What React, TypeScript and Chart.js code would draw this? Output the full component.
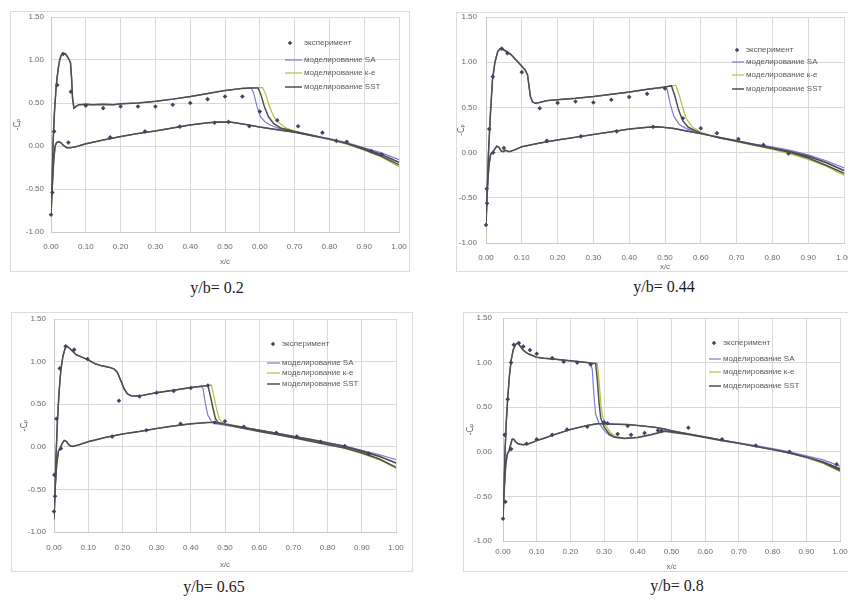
import React, { useEffect, useRef } from 'react';
import { Chart, registerables } from 'chart.js';

Chart.register(...registerables);

type Pt = [number, number];

// ---------- texts ----------
const SERIES_LABELS = ['эксперимент', 'моделирование SA', 'моделирование к-е', 'моделирование SST'];
const CAPTIONS = ['y/b= 0.2', 'y/b= 0.44', 'y/b= 0.65', 'y/b= 0.8'];
const X_TITLE = 'x/c';
const Y_TITLE = '-Cₚ';
const X_TICKS = [0, 0.1, 0.2, 0.3, 0.4, 0.5, 0.6, 0.7, 0.8, 0.9, 1.0];
const Y_TICKS = [-1.0, -0.5, 0, 0.5, 1.0, 1.5];

// ---------- panel 1 : y/b = 0.2 ----------
const P1_UPPER: Pt[] = [[0,-0.80],[0.003,-0.45],[0.006,0.05],[0.010,0.40],[0.015,0.70],[0.020,0.88],[0.025,1.00],[0.030,1.06],[0.035,1.08],[0.042,1.07],[0.050,1.02],[0.056,0.97],[0.059,0.80],[0.062,0.55],[0.066,0.44],[0.072,0.46],[0.080,0.48],[0.10,0.485],[0.12,0.48],[0.15,0.485],[0.18,0.48],[0.20,0.49],[0.25,0.50],[0.30,0.52],[0.35,0.545],[0.40,0.575],[0.45,0.61],[0.50,0.645],[0.55,0.67],[0.575,0.675]];
const P1_SA_AFT: Pt[] = [[0.575,0.675],[0.582,0.62],[0.592,0.46],[0.602,0.34],[0.615,0.28],[0.63,0.245],[0.65,0.21],[0.70,0.165],[0.75,0.125],[0.80,0.085],[0.85,0.04],[0.90,-0.02],[0.95,-0.08],[1.00,-0.16]];
const P1_KE_AFT: Pt[] = [[0.575,0.675],[0.608,0.68],[0.617,0.60],[0.628,0.46],[0.64,0.34],[0.655,0.27],[0.675,0.21],[0.70,0.175],[0.75,0.125],[0.80,0.075],[0.85,0.02],[0.90,-0.05],[0.95,-0.13],[1.00,-0.24]];
const P1_SST_AFT: Pt[] = [[0.575,0.675],[0.595,0.675],[0.603,0.60],[0.613,0.46],[0.625,0.34],[0.64,0.26],[0.66,0.21],[0.70,0.17],[0.75,0.125],[0.80,0.08],[0.85,0.03],[0.90,-0.04],[0.95,-0.12],[1.00,-0.22]];
const P1_LOWER: Pt[] = [[0,-0.80],[0.004,-0.45],[0.008,-0.15],[0.012,0.00],[0.016,0.04],[0.022,0.05],[0.028,0.04],[0.035,0.01],[0.045,-0.02],[0.055,-0.02],[0.07,-0.01],[0.10,0.025],[0.15,0.07],[0.20,0.11],[0.25,0.145],[0.30,0.175],[0.35,0.21],[0.40,0.245],[0.45,0.27],[0.48,0.28],[0.52,0.275],[0.56,0.25],[0.60,0.22],[0.65,0.19],[0.70,0.16],[0.75,0.12],[0.80,0.08],[0.85,0.03],[0.90,-0.03],[0.95,-0.10],[1.00,-0.19]];
const P1_EXP_UPPER: Pt[] = [[0,-0.80],[0.004,-0.54],[0.009,0.17],[0.018,0.71],[0.035,1.07],[0.057,0.63],[0.10,0.47],[0.15,0.44],[0.20,0.46],[0.25,0.46],[0.30,0.46],[0.35,0.48],[0.40,0.50],[0.45,0.545],[0.50,0.575],[0.55,0.575],[0.60,0.40],[0.65,0.30],[0.71,0.23],[0.78,0.155],[0.85,0.05],[0.92,-0.06],[0.95,-0.10]];
const P1_EXP_LOWER: Pt[] = [[0.05,0.04],[0.17,0.10],[0.27,0.17],[0.37,0.225],[0.47,0.27],[0.51,0.28],[0.57,0.23],[0.82,0.06]];

// ---------- panel 2 : y/b = 0.44 ----------
const P2_UPPER: Pt[] = [[0,-0.80],[0.003,-0.45],[0.007,0.00],[0.012,0.40],[0.018,0.80],[0.025,1.00],[0.033,1.12],[0.040,1.15],[0.048,1.14],[0.06,1.11],[0.07,1.085],[0.08,1.04],[0.09,1.00],[0.10,0.955],[0.11,0.91],[0.116,0.86],[0.120,0.74],[0.124,0.62],[0.130,0.56],[0.138,0.545],[0.15,0.555],[0.17,0.575],[0.20,0.585],[0.25,0.60],[0.30,0.62],[0.35,0.645],[0.40,0.67],[0.45,0.70],[0.50,0.725]];
const P2_SA_AFT: Pt[] = [[0.50,0.725],[0.506,0.70],[0.515,0.53],[0.525,0.40],[0.54,0.31],[0.56,0.265],[0.60,0.21],[0.65,0.165],[0.70,0.13],[0.75,0.095],[0.80,0.065],[0.85,0.025],[0.90,-0.025],[0.95,-0.09],[1.00,-0.17]];
const P2_KE_AFT: Pt[] = [[0.50,0.725],[0.53,0.745],[0.54,0.63],[0.55,0.49],[0.56,0.37],[0.575,0.29],[0.60,0.225],[0.65,0.165],[0.70,0.12],[0.75,0.08],[0.80,0.035],[0.85,-0.015],[0.90,-0.075],[0.95,-0.15],[1.00,-0.25]];
const P2_SST_AFT: Pt[] = [[0.50,0.725],[0.518,0.74],[0.528,0.62],[0.538,0.47],[0.55,0.35],[0.565,0.28],[0.60,0.215],[0.65,0.165],[0.70,0.125],[0.75,0.085],[0.80,0.045],[0.85,0.00],[0.90,-0.06],[0.95,-0.14],[1.00,-0.23]];
const P2_LOWER: Pt[] = [[0,-0.80],[0.004,-0.40],[0.008,-0.15],[0.013,-0.02],[0.018,0.00],[0.023,0.03],[0.030,0.07],[0.036,0.06],[0.042,0.02],[0.048,0.01],[0.055,0.025],[0.065,0.01],[0.08,0.03],[0.10,0.065],[0.15,0.105],[0.20,0.14],[0.25,0.17],[0.30,0.20],[0.35,0.23],[0.40,0.26],[0.45,0.28],[0.48,0.285],[0.52,0.27],[0.56,0.24],[0.60,0.21],[0.65,0.17],[0.70,0.13],[0.75,0.09],[0.80,0.05],[0.85,0.01],[0.90,-0.04],[0.95,-0.11],[1.00,-0.20]];
const P2_EXP_UPPER: Pt[] = [[0,-0.80],[0.003,-0.56],[0.002,-0.40],[0.009,0.26],[0.019,0.84],[0.044,1.15],[0.06,1.10],[0.10,0.89],[0.15,0.49],[0.20,0.55],[0.25,0.565],[0.30,0.555],[0.35,0.585],[0.40,0.615],[0.45,0.65],[0.50,0.71],[0.55,0.38],[0.60,0.27],[0.645,0.215],[0.705,0.15],[0.775,0.085],[0.845,-0.01]];
const P2_EXP_LOWER: Pt[] = [[0.02,0.00],[0.05,0.05],[0.17,0.13],[0.265,0.18],[0.365,0.235],[0.467,0.285]];

// ---------- panel 3 : y/b = 0.65 ----------
const P3_UPPER: Pt[] = [[0,-0.85],[0.003,-0.50],[0.006,-0.10],[0.010,0.30],[0.015,0.65],[0.020,0.90],[0.026,1.06],[0.032,1.15],[0.037,1.18],[0.045,1.16],[0.055,1.12],[0.065,1.08],[0.08,1.055],[0.10,1.02],[0.12,0.975],[0.14,0.95],[0.16,0.935],[0.175,0.915],[0.185,0.875],[0.195,0.78],[0.205,0.68],[0.215,0.62],[0.225,0.60],[0.24,0.595],[0.26,0.605],[0.30,0.635],[0.35,0.665],[0.40,0.695],[0.43,0.71]];
const P3_SA_AFT: Pt[] = [[0.43,0.71],[0.436,0.68],[0.443,0.50],[0.45,0.37],[0.46,0.30],[0.475,0.27],[0.50,0.255],[0.55,0.22],[0.60,0.19],[0.65,0.16],[0.70,0.125],[0.75,0.09],[0.80,0.05],[0.85,0.01],[0.90,-0.04],[0.95,-0.09],[1.00,-0.15]];
const P3_KE_AFT: Pt[] = [[0.43,0.71],[0.46,0.725],[0.467,0.60],[0.475,0.45],[0.483,0.33],[0.49,0.29],[0.50,0.275],[0.55,0.235],[0.60,0.19],[0.65,0.15],[0.70,0.11],[0.75,0.07],[0.80,0.03],[0.85,-0.02],[0.90,-0.08],[0.95,-0.15],[1.00,-0.25]];
const P3_SST_AFT: Pt[] = [[0.43,0.71],[0.45,0.72],[0.457,0.60],[0.465,0.45],[0.472,0.33],[0.48,0.285],[0.50,0.265],[0.55,0.22],[0.60,0.18],[0.65,0.145],[0.70,0.105],[0.75,0.065],[0.80,0.025],[0.85,-0.015],[0.90,-0.07],[0.95,-0.14],[1.00,-0.24]];
const P3_LOWER: Pt[] = [[0,-0.85],[0.004,-0.45],[0.008,-0.20],[0.013,-0.05],[0.018,-0.02],[0.024,0.04],[0.030,0.075],[0.036,0.065],[0.042,0.03],[0.048,0.01],[0.055,0.005],[0.07,0.02],[0.10,0.06],[0.15,0.11],[0.20,0.15],[0.25,0.18],[0.30,0.215],[0.35,0.245],[0.40,0.27],[0.45,0.285],[0.47,0.285],[0.50,0.265],[0.55,0.23],[0.60,0.195],[0.65,0.16],[0.70,0.12],[0.75,0.085],[0.80,0.045],[0.85,0.005],[0.90,-0.05],[0.95,-0.11],[1.00,-0.19]];
const P3_EXP_UPPER: Pt[] = [[0,-0.76],[0.003,-0.58],[0.001,-0.33],[0.007,0.33],[0.017,0.92],[0.034,1.18],[0.059,1.14],[0.098,1.03],[0.19,0.54],[0.25,0.59],[0.30,0.635],[0.35,0.655],[0.40,0.69],[0.45,0.72],[0.50,0.30],[0.555,0.235],[0.65,0.165],[0.71,0.12],[0.78,0.06],[0.85,0.01],[0.92,-0.08]];
const P3_EXP_LOWER: Pt[] = [[0.02,-0.02],[0.17,0.12],[0.27,0.195],[0.37,0.27],[0.47,0.285]];

// ---------- panel 4 : y/b = 0.8 ----------
const P4_UPPER: Pt[] = [[0,-0.75],[0.003,-0.40],[0.006,0.00],[0.010,0.35],[0.014,0.60],[0.019,0.85],[0.024,1.02],[0.030,1.14],[0.037,1.20],[0.043,1.22],[0.050,1.19],[0.06,1.14],[0.07,1.11],[0.08,1.09],[0.10,1.06],[0.12,1.05],[0.15,1.04],[0.20,1.02],[0.25,1.00],[0.26,0.995]];
const P4_SA_AFT: Pt[] = [[0.26,0.995],[0.265,0.92],[0.27,0.62],[0.275,0.42],[0.285,0.32],[0.30,0.24],[0.315,0.185],[0.33,0.16],[0.36,0.15],[0.40,0.16],[0.44,0.195],[0.48,0.235],[0.50,0.225],[0.55,0.20],[0.60,0.165],[0.65,0.13],[0.70,0.10],[0.75,0.07],[0.80,0.035],[0.85,0.00],[0.90,-0.045],[0.95,-0.09],[1.00,-0.16]];
const P4_KE_AFT: Pt[] = [[0.26,0.995],[0.28,0.99],[0.285,0.80],[0.29,0.55],[0.295,0.40],[0.305,0.29],[0.32,0.21],[0.335,0.17],[0.36,0.155],[0.40,0.165],[0.44,0.195],[0.48,0.235],[0.50,0.225],[0.55,0.20],[0.60,0.165],[0.65,0.13],[0.70,0.095],[0.75,0.06],[0.80,0.025],[0.85,-0.015],[0.90,-0.065],[0.95,-0.13],[1.00,-0.22]];
const P4_SST_AFT: Pt[] = [[0.26,0.995],[0.275,0.99],[0.28,0.80],[0.285,0.55],[0.29,0.38],[0.30,0.28],[0.315,0.20],[0.33,0.165],[0.36,0.15],[0.40,0.16],[0.44,0.19],[0.48,0.23],[0.50,0.22],[0.55,0.195],[0.60,0.16],[0.65,0.125],[0.70,0.095],[0.75,0.06],[0.80,0.025],[0.85,-0.01],[0.90,-0.06],[0.95,-0.12],[1.00,-0.21]];
const P4_LOWER: Pt[] = [[0,-0.75],[0.004,-0.40],[0.008,-0.15],[0.013,-0.02],[0.017,0.00],[0.022,0.07],[0.027,0.14],[0.032,0.14],[0.038,0.11],[0.045,0.09],[0.05,0.085],[0.06,0.08],[0.07,0.085],[0.08,0.095],[0.10,0.125],[0.12,0.15],[0.15,0.19],[0.20,0.25],[0.25,0.295],[0.28,0.315],[0.30,0.315],[0.33,0.31],[0.37,0.305],[0.40,0.295],[0.45,0.275],[0.48,0.255],[0.50,0.235],[0.55,0.20],[0.60,0.165],[0.65,0.13],[0.70,0.095],[0.75,0.06],[0.80,0.025],[0.85,-0.015],[0.90,-0.06],[0.95,-0.115],[1.00,-0.19]];
const P4_EXP_UPPER: Pt[] = [[0,-0.75],[0.007,-0.56],[0.005,0.19],[0.014,0.59],[0.024,1.00],[0.032,1.20],[0.047,1.22],[0.06,1.18],[0.08,1.14],[0.10,1.10],[0.146,1.05],[0.18,1.01],[0.22,1.00],[0.26,0.98],[0.30,0.33],[0.34,0.20],[0.38,0.19],[0.42,0.21],[0.47,0.235],[0.55,0.27],[0.65,0.14],[0.75,0.07],[0.85,0.00],[0.99,-0.14]];
const P4_EXP_LOWER: Pt[] = [[0.024,0.03],[0.07,0.09],[0.10,0.14],[0.146,0.19],[0.19,0.25],[0.25,0.28],[0.31,0.32],[0.37,0.29],[0.46,0.24]];

const PANEL_DATA = [
  { expU: P1_EXP_UPPER, expL: P1_EXP_LOWER, upper: P1_UPPER, sa: P1_SA_AFT, ke: P1_KE_AFT, sst: P1_SST_AFT, lower: P1_LOWER },
  { expU: P2_EXP_UPPER, expL: P2_EXP_LOWER, upper: P2_UPPER, sa: P2_SA_AFT, ke: P2_KE_AFT, sst: P2_SST_AFT, lower: P2_LOWER },
  { expU: P3_EXP_UPPER, expL: P3_EXP_LOWER, upper: P3_UPPER, sa: P3_SA_AFT, ke: P3_KE_AFT, sst: P3_SST_AFT, lower: P3_LOWER },
  { expU: P4_EXP_UPPER, expL: P4_EXP_LOWER, upper: P4_UPPER, sa: P4_SA_AFT, ke: P4_KE_AFT, sst: P4_SST_AFT, lower: P4_LOWER },
];

// ---------- layout (pixels) ----------
const LAYOUT = [
  { frame: { l: 10, t: 11, r: 410, b: 272 }, plot: { l: 51, t: 17, r: 399, b: 232 }, yPad: 7, xPad: 10, xTitlePad: 5, yTitlePad: 3,
    legend: { mx: 290, lx0: 285, lx1: 302, tx: 304, ys: [43, 60, 73, 87] }, cap: { x: 217, y: 288 } },
  { frame: { l: 456, t: 12, r: 848, b: 272 }, plot: { l: 486, t: 17, r: 845, b: 243 }, yPad: 9, xPad: 10, xTitlePad: 0, yTitlePad: 1,
    legend: { mx: 737, lx0: 732, lx1: 744, tx: 746, ys: [50, 62, 75, 89] }, cap: { x: 664, y: 287 } },
  { frame: { l: 11, t: 312, r: 413, b: 572 }, plot: { l: 54, t: 319, r: 396, b: 532 }, yPad: 8, xPad: 11, xTitlePad: 2, yTitlePad: 9,
    legend: { mx: 273, lx0: 267, lx1: 280, tx: 282, ys: [344, 363, 373, 384] }, cap: { x: 214, y: 587 } },
  { frame: { l: 463, t: 312, r: 848, b: 572 }, plot: { l: 503, t: 318, r: 840, b: 541 }, yPad: 11, xPad: 6, xTitlePad: 0, yTitlePad: 3,
    legend: { mx: 714, lx0: 709, lx1: 721, tx: 723, ys: [343, 359, 372, 386] }, cap: { x: 677, y: 586 } },
];

const COLORS = { exp: '#3f4466', sa: '#7a7ad8', ke: '#b4c03c', sst: '#4f4f4f' };
const TICK_FONT = { family: '"Liberation Sans", Arial, sans-serif', size: 8 };
const TEXT_COLOR = '#6a6a6a';

function toXY(pts: Pt[]) {
  return pts.map(([x, y]) => ({ x, y }));
}
function loop(upper: Pt[], aft: Pt[], lower: Pt[]) {
  return toXY([...upper, ...aft].reverse().concat(lower));
}

const inlineLegend = {
  id: 'inlineLegend',
  afterDraw(chart: any, _args: any, opts: any) {
    const { ctx } = chart;
    ctx.save();
    ctx.font = '8px "Liberation Sans", Arial, sans-serif';
    ctx.textBaseline = 'middle';
    chart.data.datasets.forEach((ds: any, i: number) => {
      const y = opts.ys[i];
      if (i === 0) {
        const r = 2.2;
        ctx.fillStyle = ds.backgroundColor;
        ctx.beginPath();
        ctx.moveTo(opts.mx, y - r);
        ctx.lineTo(opts.mx + r, y);
        ctx.lineTo(opts.mx, y + r);
        ctx.lineTo(opts.mx - r, y);
        ctx.closePath();
        ctx.fill();
      } else {
        ctx.strokeStyle = ds.borderColor;
        ctx.lineWidth = ds.borderWidth;
        ctx.beginPath();
        ctx.moveTo(opts.lx0, y);
        ctx.lineTo(opts.lx1, y);
        ctx.stroke();
      }
      ctx.fillStyle = '#5a5a5a';
      ctx.fillText(ds.label, opts.tx, y);
    });
    ctx.restore();
  },
};

function makeConfig(idx: number): any {
  const d = PANEL_DATA[idx];
  const L = LAYOUT[idx];
  const f = L.frame;
  const p = L.plot;
  const yW = p.l - f.l;
  const xH = f.b - p.b;
  const zeroPad = (s: any) => { s.paddingLeft = 0; s.paddingRight = 0; s.paddingTop = 0; s.paddingBottom = 0; };
  return {
    type: 'scatter',
    data: {
      datasets: [
        { label: SERIES_LABELS[0], data: toXY([...d.expU, ...d.expL]), showLine: false, pointStyle: 'rectRot', pointRadius: 2.3,
          backgroundColor: COLORS.exp, borderColor: COLORS.exp, borderWidth: 0, order: 0, clip: false },
        { label: SERIES_LABELS[1], data: loop(d.upper, d.sa, d.lower), showLine: true, pointRadius: 0, borderColor: COLORS.sa,
          backgroundColor: COLORS.sa, borderWidth: 1.2, tension: 0, order: 2 },
        { label: SERIES_LABELS[2], data: loop(d.upper, d.ke, d.lower), showLine: true, pointRadius: 0, borderColor: COLORS.ke,
          backgroundColor: COLORS.ke, borderWidth: 1.2, tension: 0, order: 3 },
        { label: SERIES_LABELS[3], data: loop(d.upper, d.sst, d.lower), showLine: true, pointRadius: 0, borderColor: COLORS.sst,
          backgroundColor: COLORS.sst, borderWidth: 1.5, tension: 0, order: 1 },
      ],
    },
    options: {
      responsive: false,
      animation: false,
      events: [],
      layout: { padding: { left: 0, top: p.t - f.t, right: f.r - p.r, bottom: 0 } },
      plugins: {
        legend: { display: false },
        tooltip: { enabled: false },
        inlineLegend: {
          mx: L.legend.mx - f.l, lx0: L.legend.lx0 - f.l, lx1: L.legend.lx1 - f.l, tx: L.legend.tx - f.l,
          ys: L.legend.ys.map((v) => v - f.t),
        },
      },
      scales: {
        x: {
          type: 'linear', position: 'bottom', min: 0, max: 1,
          afterBuildTicks: (s: any) => { s.ticks = X_TICKS.map((v) => ({ value: v })); },
          afterFit: (s: any) => { s.height = xH; zeroPad(s); },
          grid: { color: '#d9d9d9', lineWidth: 1, drawTicks: false },
          border: { color: '#c8c8c8' },
          ticks: { padding: L.xPad, font: TICK_FONT, color: TEXT_COLOR, autoSkip: false, maxRotation: 0,
            callback: (v: any) => Number(v).toFixed(2) },
          title: { display: true, text: X_TITLE, font: TICK_FONT, color: TEXT_COLOR, padding: { top: 0, bottom: L.xTitlePad } },
        },
        y: {
          type: 'linear', position: 'left', min: -1, max: 1.5,
          afterBuildTicks: (s: any) => { s.ticks = Y_TICKS.map((v) => ({ value: v })); },
          afterFit: (s: any) => { s.width = yW; zeroPad(s); },
          grid: { color: '#d9d9d9', lineWidth: 1, drawTicks: false },
          border: { color: '#c8c8c8' },
          ticks: { padding: L.yPad, font: TICK_FONT, color: TEXT_COLOR, autoSkip: false,
            callback: (v: any) => Number(v).toFixed(2) },
          title: { display: true, text: Y_TITLE, font: { family: '"DejaVu Sans", sans-serif', size: 8 }, color: '#555',
            padding: { top: L.yTitlePad, bottom: 0 } },
        },
      },
    },
    plugins: [inlineLegend],
  };
}

export default function App() {
  const refs = useRef<(HTMLCanvasElement | null)[]>([]);

  useEffect(() => {
    const charts: Chart[] = [];
    LAYOUT.forEach((_, i) => {
      const c = refs.current[i];
      if (c) charts.push(new Chart(c, makeConfig(i)));
    });
    return () => charts.forEach((ch) => ch.destroy());
  }, []);

  return (
    <div style={{ position: 'fixed', left: 0, top: 0, width: 848, height: 601, overflow: 'hidden', background: '#ffffff' }}>
      {LAYOUT.map((L, i) => {
        const w = L.frame.r - L.frame.l;
        const h = L.frame.b - L.frame.t;
        return (
          <React.Fragment key={i}>
            <div style={{ position: 'absolute', left: L.frame.l, top: L.frame.t, width: i % 2 === 1 ? w + 10 : w, height: h,
              border: '1px solid #dcdcdc', boxSizing: 'border-box' }} />
            <canvas
              ref={(el) => { refs.current[i] = el; }}
              width={w}
              height={h}
              style={{ position: 'absolute', left: L.frame.l, top: L.frame.t, width: w, height: h }}
            />
            <div style={{ position: 'absolute', left: L.cap.x, top: L.cap.y, transform: 'translate(-50%, -50%)',
              fontFamily: '"Liberation Serif", "Times New Roman", serif', fontSize: 16, color: '#1a1a1a', whiteSpace: 'nowrap' }}>
              {CAPTIONS[i]}
            </div>
          </React.Fragment>
        );
      })}
    </div>
  );
}
